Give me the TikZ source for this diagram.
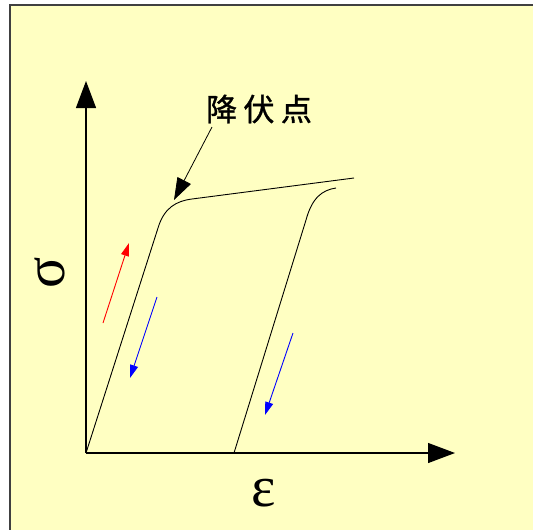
\documentclass[tikz,border=0pt]{standalone}
\usepackage{fontspec}
\setmainfont{Liberation Serif}
\newfontfamily\cjkfont[FakeBold=1.2]{Noto Sans CJK JP}
\usetikzlibrary{arrows.meta, positioning}
\definecolor{paper}{RGB}{255,255,194}

\begin{document}
\begin{tikzpicture}[
    x=1pt, y=-1pt,
    curve/.style={draw, line width=0.9pt},
    axis/.style={draw, line width=1.2pt, -{Triangle[length=27pt,width=20pt]}},
    pointer/.style={draw, line width=0.8pt, -{Triangle[length=22pt,width=15pt]}},
    flow/.style={draw, line width=0.9pt, -{Triangle[length=13pt,width=8pt]}},
    greek/.style={inner sep=0pt, font=\fontsize{58}{60}\selectfont}
]
    \clip (0,0) rectangle (533,530);
    \path [fill=paper, draw=gray!50!black, line width=1.6pt] (10,5) rectangle (560,560);

    % axes
    \coordinate (O) at (86,453);
    \coordinate (ytop) at (86,81);
    \coordinate (xend) at (455,453);
    \path [axis] (O) -- (ytop);
    \path [axis] (O) -- (xend);
    \node [greek, rotate=90] (sigma) at (50,273) {σ};
    \node [greek] (eps) at (264,493) {ε};

    % loading, yielding, unloading
    \coordinate (yield) at (158,228);
    \coordinate (knee) at (192,199);
    \coordinate (hard) at (354,178);
    \coordinate (unbase) at (234,453);
    \coordinate (untop) at (306,220);
    \coordinate (unknee) at (336,188);
    \path [curve] (O) -- (yield) .. controls (164,208) and (176,201) .. (knee) -- (hard);
    \path [curve] (unbase) -- (untop) .. controls (312,198) and (322,190) .. (unknee);

    % yield point label
    \node [font=\cjkfont\fontsize{31}{32}\selectfont, inner sep=0pt] (yieldlabel) at (259,109) {降\hspace{6.5pt}伏\hspace{6.5pt}点};
    \coordinate (ptail) at (212,127);
    \coordinate (ptip) at (174,200);
    \path [pointer] (ptail) -- (ptip);

    % direction arrows
    \coordinate (up0) at (103,323);
    \coordinate (up1) at (129,243);
    \coordinate (dnA0) at (157,297);
    \coordinate (dnA1) at (130,378);
    \coordinate (dnB0) at (293,333);
    \coordinate (dnB1) at (265,415);
    \path [flow, red] (up0) -- (up1);
    \path [flow, blue] (dnA0) -- (dnA1);
    \path [flow, blue] (dnB0) -- (dnB1);
\end{tikzpicture}
\end{document}
